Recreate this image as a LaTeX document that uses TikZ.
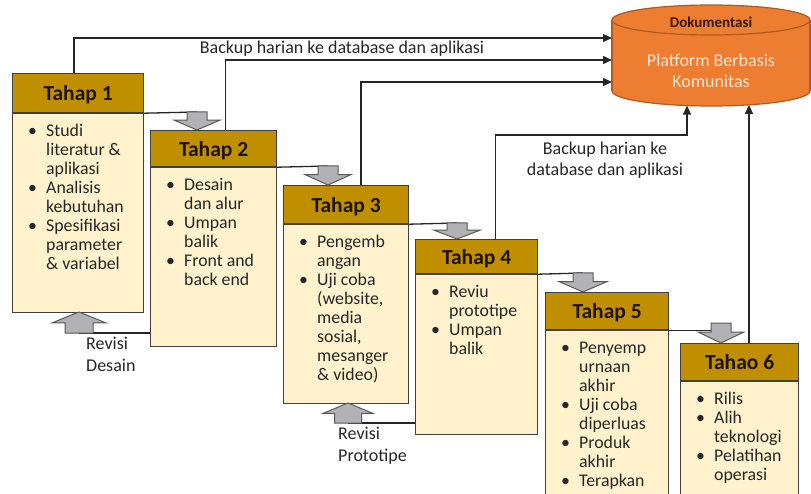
\documentclass[tikz,border=0pt]{standalone}
\usepackage{fontspec}
\setmainfont{Carlito}
\usetikzlibrary{arrows.meta}

\definecolor{hdrgold}{HTML}{BF8F00}
\definecolor{cream}{HTML}{FFF2CC}
\definecolor{boxedge}{HTML}{404040}
\definecolor{ink}{HTML}{262626}
\definecolor{hdrink}{HTML}{1E1400}
\definecolor{dbfill}{HTML}{ED7D31}
\definecolor{dbedge}{HTML}{AE5A21}
\definecolor{dbtitle}{HTML}{3A1A00}
\definecolor{dbtext}{HTML}{FCE4D2}
\definecolor{blkfill}{HTML}{B2B2B6}
\definecolor{blkedge}{HTML}{595959}

% bullet row / continuation row of a stage's item list
\newcommand\itm{\makebox[18pt][l]{\textbullet}}
\newcommand\itc{\hspace*{18pt}}
\newcommand\firstln{\rule{0pt}{13pt}}

\tikzset{
  % block arrow: #1 length (signed, along y), #2 shaft half width,
  % #3 head half width, #4 fraction of the length taken by the shaft
  pics/blk/.style n args={4}{code={
    \filldraw[fill=blkfill, draw=blkedge, line width=1pt, line join=miter]
      (-#2,0) -- (#2,0) -- (#2,{#4*(#1)}) -- (#3,{#4*(#1)}) -- (0,#1)
      -- (-#3,{#4*(#1)}) -- (-#2,{#4*(#1)}) -- cycle;}}
}

\begin{document}
\begin{tikzpicture}[x=1pt,y=-1pt,
  hdr/.style={draw=boxedge, line width=1.2pt, fill=hdrgold, anchor=north west,
    inner sep=0pt, text=hdrink, font=\fontsize{21.5}{25}\selectfont\bfseries, text depth=0pt},
  bodybox/.style={draw=boxedge, line width=1.2pt, fill=cream, anchor=north west, inner sep=0pt},
  itemtext/.style={anchor=north west, align=left, inner sep=0pt, text=ink,
    font=\fontsize{17.8}{19}\selectfont},
  lbl/.style={inner sep=0pt, text=ink, font=\fontsize{18}{21}\selectfont},
  wire/.style={draw=ink, line width=1.3pt},
  conn/.style={wire, -{Triangle[length=9pt,width=8pt]}},
]
\useasboundingbox (0,0) rectangle (811,494);
\clip (0,0) rectangle (811,494);

% ---------- community platform (cylinder) ----------
\filldraw[fill=dbfill, draw=dbedge, line width=1.2pt] (711,91) ellipse [x radius=99, y radius=15];
\fill[dbfill] (612,20) rectangle (810,91);
\draw[dbedge, line width=1.2pt] (612,20) -- (612,91) (810,20) -- (810,91);
\filldraw[fill=dbfill, draw=dbedge, line width=1.2pt] (711,20) ellipse [x radius=99, y radius=15];
\node[inner sep=0pt, minimum width=198, minimum height=101] (db) at (711,55.5) {};
\node[inner sep=0pt, text=dbtitle, font=\fontsize{15}{18}\selectfont\bfseries] (dbt) at (711,22) {Dokumentasi};
\node[inner sep=0pt, text=dbtext, align=center, font=\fontsize{18}{21}\selectfont] (dbm) at (711,71) {Platform Berbasis\\Komunitas};

% entry points on the cylinder
\coordinate (e1) at (612,38);
\coordinate (e2) at (612,60);
\coordinate (e3) at (612,82);
\coordinate (e4) at (687,105.6);
\coordinate (k4) at (687,135);
\coordinate (e5) at (749,104.9);

% ---------- stages ----------
\node[hdr, minimum width=131, minimum height=39] (h1) at (12,73) {Tahap 1};
\node[bodybox, minimum width=131, minimum height=199] (b1) at (h1.south west) {};
\node[itemtext] (t1) at ([xshift=16pt,yshift=-10pt]b1.north west)
  {\itm\firstln Studi\\ \itc literatur \&\\ \itc aplikasi\\ \itm Analisis\\ \itc kebutuhan\\
   \itm Spesifikasi\\ \itc parameter\\ \itc \& variabel};

\node[hdr, minimum width=126, minimum height=36] (h2) at (150,130) {Tahap 2};
\node[bodybox, minimum width=126, minimum height=179] (b2) at (h2.south west) {};
\node[itemtext] (t2) at ([xshift=16pt,yshift=-10pt]b2.north west)
  {\itm\firstln Desain\\ \itc dan alur\\ \itm Umpan\\ \itc balik\\ \itm Front and\\ \itc back end};

\node[hdr, minimum width=125, minimum height=38] (h3) at (283,185) {Tahap 3};
\node[bodybox, minimum width=125, minimum height=179] (b3) at (h3.south west) {};
\node[itemtext] (t3) at ([xshift=16pt,yshift=-10pt]b3.north west)
  {\itm\firstln Pengemb\\ \itc angan\\ \itm Uji coba\\ \itc (website,\\ \itc media\\
   \itc sosial,\\ \itc mesanger\\ \itc \& video)};

\node[hdr, minimum width=122, minimum height=34] (h4) at (415,239) {Tahap 4};
\node[bodybox, minimum width=122, minimum height=160] (b4) at (h4.south west) {};
\node[itemtext] (t4) at ([xshift=16pt,yshift=-10pt]b4.north west)
  {\itm\firstln Reviu\\ \itc prototipe\\ \itm Umpan\\ \itc balik};

\node[hdr, minimum width=123, minimum height=37] (h5) at (545,292) {Tahap 5};
\node[bodybox, minimum width=123, minimum height=190] (b5) at (h5.south west) {};
\node[itemtext] (t5) at ([xshift=16pt,yshift=-10pt]b5.north west)
  {\itm\firstln Penyemp\\ \itc urnaan\\ \itc akhir\\ \itm Uji coba\\ \itc diperluas\\
   \itm Produk\\ \itc akhir\\ \itm Terapkan};

\node[hdr, minimum width=118, minimum height=37] (h6) at (680,343) {Tahao 6};
\node[bodybox, minimum width=118, minimum height=140] (b6) at (h6.south west) {};
\node[itemtext] (t6) at ([xshift=16pt,yshift=-10pt]b6.north west)
  {\itm\firstln Rilis\\ \itm Alih\\ \itc teknologi\\ \itm Pelatihan\\ \itc operasi};

% ---------- daily backups to the platform ----------
\draw[conn] ([xshift=-4pt]h1.north) |- (e1);
\draw[conn] ([xshift=12pt]h2.north) |- (e2);
\draw[conn] ([xshift=15pt]h3.north) |- (e3);
\draw[conn] ([xshift=19pt]h4.north) |- (k4) -- (e4);
\draw[conn] (h6.north -| e5) -- (e5);

\node[lbl] (bk1) at (342,49) {Backup harian ke database dan aplikasi};
\node[lbl, align=center] (bk2) at (605,160.5) {Backup harian ke\\database dan aplikasi};

% ---------- stage-to-stage hand-over ----------
\coordinate (a1) at (197,112);
\coordinate (a2) at (328,166);
\coordinate (a3) at (457,223);
\coordinate (a4) at (583,273);
\coordinate (a5) at (721,323);
\draw[wire] (h1.south east) -- (a1);
\draw[wire] (h2.south east) -- (a2);
\draw[wire] (h3.south east) -- (a3);
\draw[wire] (h4.south east) -- (a4);
\draw[wire] (h5.south east) -- (h5.south east -| a5);
\pic at (a1) {blk={18}{10}{23}{0.45}};
\pic at (a2) {blk={19}{10}{23}{0.45}};
\pic at (a3) {blk={16}{10}{23}{0.45}};
\pic at (a4) {blk={19}{10}{24}{0.45}};
\pic at (a5) {blk={20}{10}{23}{0.45}};

% ---------- revision loops ----------
\coordinate (r1) at (79,333);
\coordinate (r2) at (348,423);
\draw[wire] (b2.west |- r1) -- (r1);
\draw[wire] (b4.west |- r2) -- (r2);
\pic at (r1) {blk={-21}{14}{27}{0.48}};
\pic at (r2) {blk={-20}{13.5}{25}{0.48}};

\node[lbl, anchor=base west] (rv1a) at (86,349) {Revisi};
\node[lbl, anchor=base west] (rv1b) at (86,371) {Desain};
\node[lbl, anchor=base west] (rv2a) at (338,439) {Revisi};
\node[lbl, anchor=base west] (rv2b) at (338,461) {Prototipe};
\end{tikzpicture}
\end{document}
